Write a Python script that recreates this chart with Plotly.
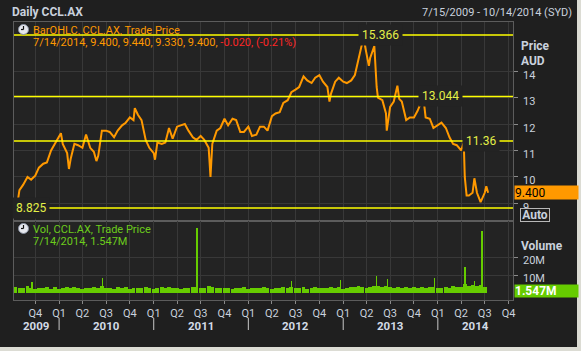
import plotly.graph_objects as go

# ---------------- data ----------------
price_dates = [
    "2009-07-15", "2009-07-22", "2009-08-01", "2009-08-15", "2009-09-01", "2009-09-15",
    "2009-10-01", "2009-10-15", "2009-11-01", "2009-11-15", "2009-12-01", "2009-12-15",
    "2010-01-01", "2010-01-08", "2010-01-15", "2010-02-01", "2010-02-08", "2010-02-15",
    "2010-03-01", "2010-03-15", "2010-04-01", "2010-04-15", "2010-05-01", "2010-05-15",
    "2010-05-25", "2010-06-01", "2010-06-15", "2010-07-01", "2010-07-15", "2010-08-01",
    "2010-08-15", "2010-09-01", "2010-09-15", "2010-10-01", "2010-10-15", "2010-10-20",
    "2010-11-01", "2010-11-15", "2010-12-01", "2010-12-15", "2011-01-01", "2011-01-06",
    "2011-01-15", "2011-02-01", "2011-02-15", "2011-03-01", "2011-03-15", "2011-04-01",
    "2011-04-15", "2011-05-01", "2011-05-15", "2011-06-01", "2011-06-15", "2011-07-01",
    "2011-07-15", "2011-08-01", "2011-08-08", "2011-08-15", "2011-09-01", "2011-09-15",
    "2011-10-01", "2011-10-15", "2011-11-01", "2011-11-15", "2011-12-01", "2011-12-15",
    "2012-01-01", "2012-01-15", "2012-02-01", "2012-02-15", "2012-03-01", "2012-03-15",
    "2012-04-01", "2012-04-15", "2012-05-01", "2012-05-15", "2012-06-01", "2012-06-15",
    "2012-07-01", "2012-07-15", "2012-08-01", "2012-08-15", "2012-09-01", "2012-09-15",
    "2012-10-01", "2012-10-15", "2012-11-01", "2012-11-09", "2012-11-15", "2012-12-01",
    "2012-12-15", "2013-01-01", "2013-01-15", "2013-02-01", "2013-02-15", "2013-03-01",
    "2013-03-15", "2013-03-18", "2013-04-01", "2013-04-10", "2013-04-15", "2013-05-01",
    "2013-05-10", "2013-05-15", "2013-06-01", "2013-06-15", "2013-06-18", "2013-07-01",
    "2013-07-15", "2013-07-29", "2013-08-05", "2013-08-15", "2013-09-01", "2013-09-15",
    "2013-10-01", "2013-10-15", "2013-11-01", "2013-11-05", "2013-11-15", "2013-12-01",
    "2013-12-15", "2014-01-01", "2014-01-15", "2014-02-01", "2014-02-15", "2014-03-01",
    "2014-03-15", "2014-04-01", "2014-04-11", "2014-04-15", "2014-04-22", "2014-05-01",
    "2014-05-15", "2014-05-22", "2014-06-01", "2014-06-15", "2014-07-01", "2014-07-07",
    "2014-07-14",
]
price_close = [
    9.05, 8.85, 9.50, 9.70, 10.00, 9.90,
    10.05, 10.35, 10.50, 10.55, 11.00, 11.25,
    11.50, 11.65, 11.25, 10.90, 10.30, 10.70,
    11.25, 11.20, 11.10, 11.60, 11.10, 10.95,
    10.60, 10.80, 11.75, 11.75, 11.70, 11.50,
    11.75, 11.95, 12.05, 12.25, 12.15, 12.60,
    12.35, 12.15, 11.40, 11.10, 10.90, 10.65,
    11.30, 11.25, 11.30, 11.85, 11.45, 11.90,
    11.95, 12.00, 11.75, 11.50, 11.40, 11.55,
    11.40, 11.10, 10.00, 11.25, 11.75, 11.85,
    12.20, 11.95, 12.20, 12.15, 11.70, 11.70,
    11.90, 11.55, 11.60, 11.90, 11.90, 11.75,
    12.30, 12.40, 12.45, 12.80, 12.90, 13.20,
    13.30, 13.40, 13.80, 13.65, 13.55, 13.75,
    13.85, 13.60, 13.40, 12.85, 13.15, 13.60,
    13.75, 13.60, 13.55, 13.65, 13.85, 14.50,
    15.05, 15.36, 14.60, 14.20, 14.50, 14.95,
    13.40, 13.00, 12.90, 12.40, 11.75, 12.65,
    12.85, 13.45, 12.95, 12.85, 12.15, 12.25,
    12.25, 12.50, 12.90, 13.10, 12.25, 12.20,
    11.85, 11.95, 12.05, 11.85, 11.50, 11.25,
    11.20, 11.00, 11.30, 10.00, 9.30, 9.30,
    9.40, 9.95, 9.40, 9.05, 9.40, 9.65,
    9.40,
]

vol_dates = [
    "2009-07-15", "2009-08-01", "2009-08-15", "2009-09-01", "2009-09-15", "2009-10-01",
    "2009-10-15", "2009-11-01", "2009-11-15", "2009-12-01", "2009-12-15", "2010-01-01",
    "2010-01-15", "2010-02-01", "2010-02-15", "2010-03-01", "2010-03-15", "2010-04-01",
    "2010-04-15", "2010-05-01", "2010-05-15", "2010-06-01", "2010-06-15", "2010-07-01",
    "2010-07-15", "2010-08-01", "2010-08-15", "2010-09-01", "2010-09-15", "2010-10-01",
    "2010-10-15", "2010-11-01", "2010-11-15", "2010-12-01", "2010-12-15", "2011-01-01",
    "2011-01-15", "2011-02-01", "2011-02-15", "2011-03-01", "2011-03-15", "2011-04-01",
    "2011-04-15", "2011-05-01", "2011-05-15", "2011-06-01", "2011-06-15", "2011-07-01",
    "2011-07-15", "2011-08-01", "2011-08-15", "2011-09-01", "2011-09-15", "2011-10-01",
    "2011-10-15", "2011-11-01", "2011-11-15", "2011-12-01", "2011-12-15", "2012-01-01",
    "2012-01-15", "2012-02-01", "2012-02-15", "2012-03-01", "2012-03-15", "2012-04-01",
    "2012-04-15", "2012-05-01", "2012-05-15", "2012-06-01", "2012-06-15", "2012-07-01",
    "2012-07-15", "2012-08-01", "2012-08-15", "2012-09-01", "2012-09-15", "2012-10-01",
    "2012-10-15", "2012-11-01", "2012-11-15", "2012-12-01", "2012-12-15", "2013-01-01",
    "2013-01-15", "2013-02-01", "2013-02-15", "2013-03-01", "2013-03-15", "2013-04-01",
    "2013-04-15", "2013-05-01", "2013-05-15", "2013-06-01", "2013-06-15", "2013-07-01",
    "2013-07-15", "2013-08-01", "2013-08-15", "2013-09-01", "2013-09-15", "2013-10-01",
    "2013-10-15", "2013-11-01", "2013-11-15", "2013-12-01", "2013-12-15", "2014-01-01",
    "2014-01-15", "2014-02-01", "2014-02-15", "2014-03-01", "2014-03-15", "2014-04-01",
    "2014-04-15", "2014-05-01", "2014-05-15", "2014-06-01", "2014-06-15", "2014-07-01",
]
vol_millions = [
    3.5, 3.0, 2.6, 3.8, 2.8, 2.4,
    3.0, 2.7, 3.2, 2.5, 3.4, 2.2,
    2.9, 3.3, 2.6, 3.6, 2.8, 2.5,
    3.1, 2.7, 3.5, 2.9, 3.8, 2.6,
    3.0, 2.4, 3.3, 2.8, 3.6, 2.5,
    3.1, 2.9, 2.6, 3.4, 2.7, 2.3,
    3.0, 3.5, 2.8, 3.2, 2.6, 2.9,
    2.5, 3.1, 2.7, 3.3, 3.6, 2.8,
    3.0, 3.7, 3.2, 2.9, 2.6, 3.1,
    2.8, 2.5, 3.0, 2.7, 3.2, 2.2,
    2.8, 3.1, 2.6, 3.4, 2.9, 2.5,
    3.0, 2.7, 3.3, 2.9, 3.5, 2.6,
    2.8, 3.2, 2.5, 3.0, 3.4, 2.7,
    3.1, 2.8, 3.3, 2.6, 3.5, 2.3,
    2.9, 3.2, 3.6, 3.9, 3.3, 3.0,
    3.4, 3.8, 4.2, 3.5, 3.9, 3.2,
    3.0, 3.6, 3.1, 3.4, 2.9, 3.2,
    2.8, 3.5, 3.0, 3.3, 3.6, 2.6,
    3.1, 3.4, 3.0, 3.7, 3.3, 3.5,
    5.0, 4.2, 4.8, 3.9, 4.5, 3.6,
]
spike_dates = ["2009-09-18", "2010-06-18", "2011-06-17", "2012-06-15", "2012-12-21",
               "2013-05-10", "2013-06-21", "2013-12-20", "2014-04-16", "2014-05-22",
               "2014-06-20"]
spike_millions = [6.5, 8.7, 36.8, 7.0, 7.5, 9.5, 8.0, 8.5, 14.9, 7.0, 35.3]

quarter_ticks = ["2009-10-01", "2010-01-01", "2010-04-01", "2010-07-01", "2010-10-01",
                 "2011-01-01", "2011-04-01", "2011-07-01", "2011-10-01", "2012-01-01",
                 "2012-04-01", "2012-07-01", "2012-10-01", "2013-01-01", "2013-04-01",
                 "2013-07-01", "2013-10-01", "2014-01-01", "2014-04-01", "2014-07-01",
                 "2014-10-01"]
quarter_labels = ["Q4", "Q1", "Q2", "Q3", "Q4", "Q1", "Q2", "Q3", "Q4", "Q1", "Q2", "Q3",
                  "Q4", "Q1", "Q2", "Q3", "Q4", "Q1", "Q2", "Q3", "Q4"]
year_labels = ["2009", "2010", "2011", "2012", "2013", "2014"]
year_label_dates = ["2009-10-06", "2010-07-02", "2011-07-02", "2012-07-01", "2013-07-02",
                    "2014-05-25"]
year_starts = ["2010-01-01", "2011-01-01", "2012-01-01", "2013-01-01", "2014-01-01"]

price_ticks = [9, 10, 11, 12, 13, 14]
vol_ticks = [10e6, 20e6]
vol_tick_labels = ["10M", "20M"]

level_values = [15.366, 13.044, 11.36, 8.825]
level_labels = ["15.366", "13.044", "11.36", "8.825"]

last_price = 9.400
last_volume = 1.547e6

# ---------------- styling ----------------
FONT = "Roboto"
PAPER = "#1f1f1f"
PLOT = "#232323"
GRID = "#383838"
BORDER = "#5c5c5c"
TXT = "#c9d1dd"
ORANGE = "#ff9900"
GREEN = "#66cc00"
YELLOW = "#ffff00"

W, H = 581, 351
L, R, T, B = 14, 68, 22, 51
PW, PH = W - L - R, H - T - B


def px(x):
    return (x - L) / PW


def py(y):
    return (H - B - y) / PH


split = py(221)
DAY = 86400000

fig = go.Figure()
fig.add_trace(go.Scatter(x=price_dates, y=price_close, mode="lines",
                         line=dict(color=ORANGE, width=2), xaxis="x", yaxis="y",
                         hoverinfo="skip"))
fig.add_trace(go.Bar(x=vol_dates, y=[v * 1e6 for v in vol_millions], width=15 * DAY,
                     marker=dict(color=GREEN, line=dict(width=0)), xaxis="x2", yaxis="y2"))
fig.add_trace(go.Bar(x=spike_dates, y=[v * 1e6 for v in spike_millions], width=2 * DAY,
                     marker=dict(color=GREEN, line=dict(width=0)), xaxis="x2", yaxis="y2"))

xrange = ["2009-07-11", "2014-10-18"]
common_x = dict(range=xrange, type="date", showgrid=True, gridcolor=GRID, gridwidth=1,
                tickvals=quarter_ticks, zeroline=False, showline=True, linecolor=BORDER,
                mirror=True)

annotations = []
shapes = []

# price level lines with labels
label_pos = [(380, 35), (440, 97), (481, 141), (31, 208)]
for val, lab, (lx, ly) in zip(level_values, level_labels, label_pos):
    shapes.append(dict(type="line", xref="x domain", yref="y", x0=0, x1=1, y0=val, y1=val,
                       line=dict(color=YELLOW, width=1.5), layer="above"))
    annotations.append(dict(text=lab, xref="paper", yref="y", x=px(lx), y=val,
                            showarrow=False, font=dict(family=FONT, size=12, color="#e4f048"),
                            bgcolor=PLOT, borderpad=3, xanchor="center", yanchor="middle"))

# y tick labels (sit a little below their tick marks, as in the reference)
for v in price_ticks:
    annotations.append(dict(text=str(v), xref="paper", yref="y", x=px(521), y=v, yshift=-4,
                            showarrow=False, xanchor="left", yanchor="middle",
                            font=dict(family=FONT, size=11, color=TXT)))
for v, lab in zip(vol_ticks, vol_tick_labels):
    annotations.append(dict(text=lab, xref="paper", yref="y2", x=px(521), y=v, yshift=-3,
                            showarrow=False, xanchor="left", yanchor="middle",
                            font=dict(family=FONT, size=11, color=TXT)))

# year separators and labels
for d in year_starts:
    shapes.append(dict(type="line", xref="x2", yref="paper", x0=d, x1=d, y0=py(318), y1=py(330),
                       line=dict(color="#c8c8c8", width=1)))
for d, lab in zip(year_label_dates, year_labels):
    annotations.append(dict(text="<b>%s</b>" % lab, xref="x2", yref="paper", x=d, y=py(325.5),
                            showarrow=False, font=dict(family=FONT, size=11.5, color="#d2dae6"),
                            xanchor="center", yanchor="middle", borderpad=0))

# titles and legends
annotations += [
    dict(text="<b>Daily CCL.AX</b>", xref="paper", yref="paper", x=px(10), y=py(12.5),
         showarrow=False, xanchor="left", yanchor="middle",
         font=dict(family=FONT, size=12, color=TXT)),
    dict(text="7/15/2009 - 10/14/2014 (SYD)", xref="paper", yref="paper", x=px(574), y=py(13),
         showarrow=False, xanchor="right", yanchor="middle",
         font=dict(family=FONT, size=11, color=TXT)),
    dict(text="BarOHLC, CCL.AX, Trade Price", xref="paper", yref="paper", x=px(31), y=py(30.5),
         showarrow=False, xanchor="left", yanchor="middle",
         font=dict(family=FONT, size=11, color=ORANGE)),
    dict(text="7/14/2014, 9.400, 9.440, 9.330, 9.400, <span style='color:#ff2626'>-0.020, (-0.21%)</span>",
         xref="paper", yref="paper", x=px(31), y=py(43), showarrow=False, xanchor="left",
         yanchor="middle", font=dict(family=FONT, size=11, color=ORANGE)),
    dict(text="Vol, CCL.AX, Trade Price", xref="paper", yref="paper", x=px(31), y=py(229.5),
         showarrow=False, xanchor="left", yanchor="middle",
         font=dict(family=FONT, size=11, color="#6ccc1c")),
    dict(text="7/14/2014, 1.547M", xref="paper", yref="paper", x=px(31), y=py(241.5),
         showarrow=False, xanchor="left", yanchor="middle",
         font=dict(family=FONT, size=11, color="#6ccc1c")),
    dict(text="<b>Price</b>", xref="paper", yref="paper", x=px(519), y=py(46), showarrow=False,
         xanchor="left", yanchor="middle", font=dict(family=FONT, size=12, color=TXT)),
    dict(text="<b>AUD</b>", xref="paper", yref="paper", x=px(519), y=py(61), showarrow=False,
         xanchor="left", yanchor="middle", font=dict(family=FONT, size=12, color=TXT)),
    dict(text="<b>Volume</b>", xref="paper", yref="paper", x=px(519), y=py(246), showarrow=False,
         xanchor="left", yanchor="middle", font=dict(family=FONT, size=12, color=TXT)),
    # last-value box and Auto button (drawn over the lowest axis label, as in the reference)
    dict(text="%.3f" % last_price, xref="paper", yref="y", x=px(514), y=last_price,
         showarrow=False, xanchor="left", yanchor="middle", align="left", width=63, height=13,
         bgcolor=ORANGE, borderpad=0, font=dict(family=FONT, size=12, color="#000000")),
    dict(text="<b>Auto</b>", xref="paper", yref="paper", x=px(520), y=py(214.5),
         showarrow=False, xanchor="left", yanchor="middle", width=28, height=12,
         bgcolor=PAPER, bordercolor="#b8b8b8", borderwidth=1, borderpad=0,
         font=dict(family=FONT, size=12, color=TXT)),
    dict(text="<b>%.3fM</b>" % (last_volume / 1e6), xref="paper", yref="paper", x=px(514),
         y=py(291.3), showarrow=False, xanchor="left", yanchor="middle", align="left",
         width=63, height=12, bgcolor=GREEN, borderpad=0,
         font=dict(family=FONT, size=12, color="#ffffff")),
]

# clock icons, outer frame
shapes += [
    dict(type="rect", xref="paper", yref="paper", x0=px(577), x1=px(590), y0=py(-5), y1=py(360),
         fillcolor="#dcdcd4", line=dict(width=0)),
    dict(type="rect", xref="paper", yref="paper", x0=px(-5), x1=px(590), y0=py(347), y1=py(360),
         fillcolor="#dcdcd4", line=dict(width=0)),
]
for cy in (29.5, 228.5):
    shapes += [
        dict(type="circle", xref="paper", yref="paper", x0=px(18.5), x1=px(28.5), y0=py(cy - 5),
             y1=py(cy + 5), fillcolor="#e6e8ee", line=dict(color="#8890a0", width=1)),
        dict(type="line", xref="paper", yref="paper", x0=px(23.5), x1=px(23.5), y0=py(cy),
             y1=py(cy - 3.5), line=dict(color="#111111", width=1.2)),
        dict(type="line", xref="paper", yref="paper", x0=px(23.5), x1=px(21), y0=py(cy),
             y1=py(cy), line=dict(color="#111111", width=1.2)),
    ]

fig.update_layout(
    width=W, height=H, margin=dict(l=L, r=R, t=T, b=B, pad=0),
    paper_bgcolor=PAPER, plot_bgcolor=PLOT, showlegend=False, barmode="overlay",
    bargap=0,
    xaxis=dict(**common_x, anchor="y", showticklabels=False, ticks=""),
    xaxis2=dict(**common_x, anchor="y2", matches="x", ticktext=quarter_labels, ticks="outside",
                ticklen=3, tickcolor="#8a8a8a",
                tickfont=dict(family=FONT, size=11, color=TXT)),
    yaxis=dict(domain=[split, 1], range=[8.334, 15.857], side="right", tickvals=price_ticks,
               showticklabels=False, ticks="outside", ticklen=4, tickcolor="#8a8a8a",
               showgrid=True, gridcolor=GRID, zeroline=False, showline=True, linecolor=BORDER,
               mirror=True),
    yaxis2=dict(domain=[0, split], range=[-3.97e6, 40.8e6], side="right", tickvals=vol_ticks,
                showticklabels=False, ticks="outside", ticklen=4, tickcolor="#8a8a8a",
                showgrid=True, gridcolor=GRID, zeroline=False, showline=True,
                linecolor=BORDER, mirror=True),
    shapes=shapes, annotations=annotations,
)

fig.write_html("out.html")
